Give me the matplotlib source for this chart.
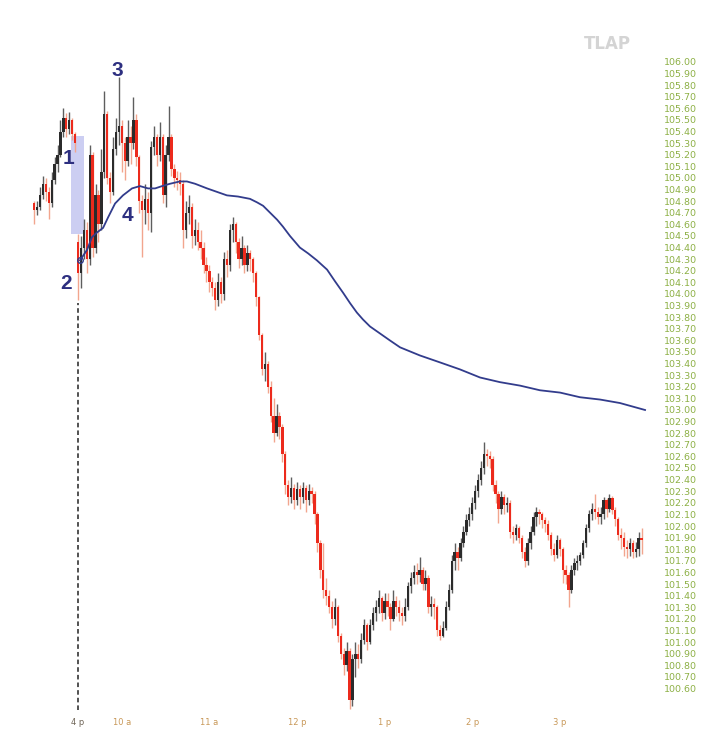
import numpy as np
import matplotlib.pyplot as plt
from matplotlib.patches import Rectangle

# prev day last 15 two-minute bars, then today from 9:30
prev_open = 104.78
prev_close = [104.72, 104.75, 104.85, 104.95, 104.88, 104.78, 104.98, 105.12, 105.20, 105.40,
              105.52, 105.42, 105.50, 105.38, 105.30]
prev_high = [104.80, 104.80, 104.92, 105.02, 105.00, 104.92, 105.05, 105.18, 105.28, 105.50,
             105.60, 105.56, 105.57, 105.52, 105.40]
prev_low = [104.60, 104.68, 104.72, 104.82, 104.80, 104.65, 104.75, 104.95, 105.05, 105.18,
            105.35, 105.35, 105.38, 105.33, 105.22]

day_open = 104.45
close = [104.18, 104.40, 104.55, 104.30, 105.20, 104.40, 104.85, 104.60, 105.05, 105.55,
         105.00, 104.88, 105.25, 105.40, 105.45, 105.30, 105.15, 105.35, 105.30, 105.50,
         105.18, 104.80, 104.72, 104.82, 104.70, 105.27, 105.35, 105.20, 105.35, 104.85,
         105.20, 105.35, 105.08, 105.00, 104.98, 104.95, 104.55, 104.70, 104.75, 104.50,
         104.55, 104.45, 104.40, 104.25, 104.20, 104.10, 104.05, 103.95, 104.10, 104.00,
         104.30, 104.25, 104.55, 104.60, 104.45, 104.30, 104.40, 104.25, 104.35, 104.30,
         104.18, 103.97, 103.65, 103.35, 103.40, 103.20, 102.95, 102.80, 102.95, 102.85,
         102.62, 102.35, 102.25, 102.33, 102.22, 102.32, 102.25, 102.33, 102.22, 102.30,
         102.28, 102.10, 101.85, 101.62, 101.45, 101.40, 101.30, 101.20, 101.30, 101.05,
         100.90, 100.80, 100.92, 100.50, 100.85, 100.90, 100.85, 101.02, 101.15, 101.00,
         101.15, 101.25, 101.30, 101.38, 101.25, 101.35, 101.30, 101.20, 101.35, 101.30,
         101.25, 101.22, 101.30, 101.48, 101.55, 101.60, 101.58, 101.62, 101.50, 101.55,
         101.30, 101.33, 101.30, 101.10, 101.05, 101.12, 101.30, 101.45, 101.70, 101.78,
         101.72, 101.85, 101.95, 102.05, 102.10, 102.20, 102.30, 102.40, 102.50, 102.62,
         102.60, 102.58, 102.35, 102.28, 102.15, 102.25, 102.18, 102.20, 101.95, 101.92,
         101.98, 101.90, 101.78, 101.70, 101.85, 101.95, 102.08, 102.12, 102.10, 102.05,
         102.02, 101.92, 101.80, 101.75, 101.88, 101.80, 101.62, 101.58, 101.45, 101.62,
         101.68, 101.70, 101.75, 101.85, 101.98, 102.10, 102.15, 102.12, 102.08, 102.10,
         102.22, 102.15, 102.24, 102.14, 102.06, 101.92, 101.90, 101.82, 101.80, 101.85,
         101.78, 101.80, 101.90, 101.88]
high = [104.52, 104.50, 104.65, 104.62, 105.28, 105.22, 104.95, 104.90, 105.25, 105.75,
        105.58, 105.05, 105.35, 105.52, 105.87, 105.50, 105.35, 105.50, 105.45, 105.70,
        105.55, 105.20, 104.85, 104.95, 104.88, 105.32, 105.45, 105.38, 105.48, 105.38,
        105.28, 105.62, 105.38, 105.12, 105.06, 105.05, 104.98, 104.80, 104.85, 104.78,
        104.65, 104.62, 104.55, 104.45, 104.32, 104.25, 104.15, 104.10, 104.18, 104.15,
        104.36, 104.38, 104.60, 104.66, 104.62, 104.48, 104.50, 104.42, 104.42, 104.38,
        104.32, 104.20, 103.98, 103.66, 103.50, 103.42, 103.25, 103.10, 103.05, 102.98,
        102.88, 102.65, 102.40, 102.42, 102.36, 102.38, 102.35, 102.38, 102.35, 102.36,
        102.34, 102.30, 102.12, 101.88, 101.85, 101.55, 101.45, 101.35, 101.38, 101.32,
        101.08, 100.95, 101.00, 100.95, 100.90, 101.00, 100.98, 101.08, 101.20, 101.16,
        101.20, 101.30, 101.36, 101.45, 101.40, 101.42, 101.42, 101.34, 101.45, 101.40,
        101.36, 101.30, 101.38, 101.52, 101.60, 101.66, 101.68, 101.73, 101.65, 101.62,
        101.58, 101.40, 101.38, 101.32, 101.15, 101.18, 101.35, 101.50, 101.75, 101.85,
        101.82, 101.90, 102.00, 102.10, 102.16, 102.25, 102.35, 102.45, 102.56, 102.72,
        102.66, 102.65, 102.60, 102.40, 102.30, 102.30, 102.28, 102.25, 102.22, 102.00,
        102.02, 102.00, 101.92, 101.82, 101.90, 102.00, 102.12, 102.16, 102.15, 102.12,
        102.08, 102.05, 101.95, 101.85, 101.92, 101.90, 101.82, 101.66, 101.60, 101.66,
        101.72, 101.75, 101.78, 101.88, 102.02, 102.14, 102.20, 102.28, 102.16, 102.16,
        102.25, 102.24, 102.28, 102.26, 102.16, 102.08, 101.98, 101.95, 101.88, 101.90,
        101.88, 101.86, 101.95, 101.98]
low = [103.95, 104.05, 104.30, 104.18, 104.25, 104.32, 104.35, 104.45, 104.55, 105.00,
       104.95, 104.78, 104.85, 105.20, 105.28, 105.05, 104.98, 105.10, 105.12, 105.25,
       105.10, 104.70, 104.32, 104.60, 104.55, 104.53, 105.20, 105.10, 105.15, 104.78,
       104.75, 105.15, 105.02, 104.92, 104.90, 104.85, 104.40, 104.48, 104.60, 104.40,
       104.42, 104.38, 104.30, 104.18, 104.10, 104.02, 103.98, 103.86, 103.90, 103.92,
       103.95, 104.15, 104.20, 104.45, 104.35, 104.22, 104.25, 104.18, 104.20, 104.20,
       104.10, 103.90, 103.60, 103.30, 103.25, 103.15, 102.90, 102.72, 102.78, 102.75,
       102.55, 102.28, 102.18, 102.20, 102.15, 102.18, 102.15, 102.20, 102.12, 102.18,
       102.20, 102.02, 101.78, 101.55, 101.38, 101.32, 101.25, 101.12, 101.15, 101.00,
       100.85, 100.72, 100.75, 100.42, 100.45, 100.70, 100.78, 100.82, 100.98, 100.93,
       100.98, 101.10, 101.18, 101.25, 101.18, 101.20, 101.22, 101.10, 101.18, 101.22,
       101.18, 101.15, 101.18, 101.28, 101.42, 101.50, 101.50, 101.52, 101.45, 101.45,
       101.25, 101.22, 101.20, 101.05, 101.02, 101.04, 101.10, 101.28, 101.42, 101.62,
       101.62, 101.70, 101.82, 101.92, 102.00, 102.05, 102.15, 102.25, 102.35, 102.45,
       102.52, 102.50, 102.30, 102.20, 102.03, 102.10, 102.10, 102.12, 101.90, 101.85,
       101.88, 101.85, 101.72, 101.65, 101.66, 101.80, 101.92, 102.00, 102.02, 101.98,
       101.95, 101.88, 101.75, 101.70, 101.72, 101.74, 101.51, 101.50, 101.30, 101.42,
       101.58, 101.62, 101.66, 101.72, 101.82, 101.95, 102.05, 102.06, 102.02, 102.02,
       102.06, 102.08, 102.12, 102.10, 102.00, 101.88, 101.80, 101.74, 101.72, 101.74,
       101.72, 101.73, 101.74, 101.76]

# moving average, read at bar numbers
ma_bar = [0.7, 3.1, 4.8, 6.5, 8.6, 10.3, 12.7, 15.4, 18.5, 21.2, 24.0, 26.4, 28.8, 31.5,
          34.9, 37.3, 40.1, 44.2, 47.6, 51.0, 54.8, 58.9, 61.3, 63.4, 65.8, 68.2, 70.2,
          72.6, 76.0, 78.8, 81.8, 85.3, 88.0, 90.8, 93.2, 95.5, 97.6, 100.0, 103.4, 106.8,
          110.3, 117.1, 124.0, 130.8, 137.7, 144.5, 151.4, 158.2, 165.1, 171.9, 178.8,
          185.6, 194.2]
ma_val = [104.29, 104.38, 104.49, 104.53, 104.57, 104.66, 104.78, 104.85, 104.91, 104.93,
          104.91, 104.91, 104.93, 104.95, 104.97, 104.97, 104.95, 104.91, 104.88, 104.85,
          104.84, 104.82, 104.79, 104.76, 104.70, 104.64, 104.58, 104.50, 104.40, 104.35,
          104.29, 104.21, 104.11, 104.01, 103.92, 103.84, 103.78, 103.72, 103.66, 103.60,
          103.54, 103.47, 103.41, 103.35, 103.28, 103.24, 103.21, 103.17, 103.15, 103.11,
          103.09, 103.06, 103.00]

hour_bar = [0, 15, 45, 75, 105, 135, 165]
hour_lbl = ['4 p', '10 a', '11 a', '12 p', '1 p', '2 p', '3 p']
price_ticks = np.round(np.arange(100.6, 106.001, 0.1), 2)

# join both sessions
c = np.array(prev_close + close)
h = np.array(prev_high + high)
l = np.array(prev_low + low)
o = np.concatenate([[prev_open], c[:-1]])
o[len(prev_close)] = day_open
x = np.arange(-len(prev_close), len(close))

fig = plt.figure(figsize=(7.18, 7.5), dpi=100)
ax = fig.add_axes([0, 40 / 750, 660 / 718, 710 / 750])
ax.set_xlim(-26.71, 199.32)
ax.set_ylim(100.414, 106.534)

# gap box between yesterday's close and today's open
ax.add_patch(Rectangle((-2.4, 104.52), 4.4, 0.84, facecolor='#c3c6f0', edgecolor='none',
                       alpha=0.85, zorder=1))

up = c >= o
wick_col = np.where(up, '#5e5e5e', '#f2a58e')
body_col = np.where(up, '#2b2b2b', '#ec2a1c')
ax.vlines(x, l, h, colors=wick_col, linewidth=1.0, zorder=2)
ax.bar(x, np.abs(c - o), bottom=np.minimum(o, c), width=0.8, color=body_col,
       linewidth=0, zorder=3)

ax.plot(ma_bar, ma_val, color='#323c8c', linewidth=1.3, zorder=4, solid_joinstyle='round')
ax.plot(ma_bar[0], ma_val[0], 'o', mfc='none', mec='#323c8c', ms=4, mew=1, zorder=5)

# open marker line
ax.vlines(0, 100.414, low[0] - 0.03, colors='#222222', linestyles=(0, (3, 2)),
          linewidth=1.1, zorder=4)

lab = dict(color='#2d2f80', fontsize=15, fontweight='bold', ha='center', va='center',
           family='Liberation Sans')
ax.text(-3.4, 105.17, '1', **lab)
ax.text(-4.1, 104.09, '2', **lab)
ax.text(13.4, 105.93, '3', **lab)
ax.text(16.8, 104.68, '4', **lab)

fig.text(607 / 718, 1 - 44 / 750, 'TLAP', color='#d4d4d4', fontsize=12, fontweight='bold',
         ha='center', va='center')

for s in ax.spines.values():
    s.set_visible(False)
ax.yaxis.tick_right()
ax.set_yticks(price_ticks)
ax.set_yticklabels([f'{p:.2f}' for p in price_ticks])
ax.tick_params(axis='y', length=0, pad=2.9, labelsize=6.8, labelcolor='#8db045')
ax.set_xticks(hour_bar)
ax.set_xticklabels(hour_lbl)
ax.tick_params(axis='x', length=0, pad=5.5, labelsize=6, labelcolor='#c89858')
ax.get_xticklabels()[0].set_color('#6e6456')

fig.savefig('out.png', dpi=100, facecolor='white')
